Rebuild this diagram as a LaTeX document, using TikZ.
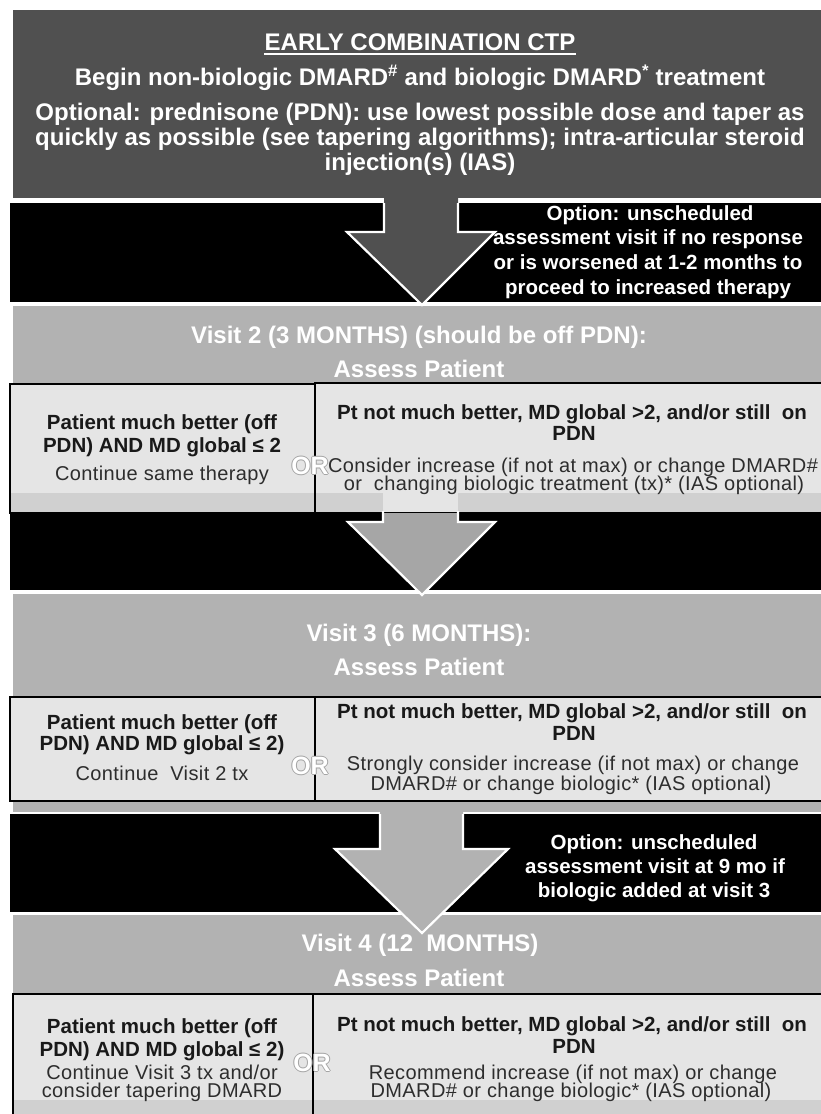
\documentclass[tikz,border=0pt]{standalone}
\usepackage{fontspec}
\setmainfont{Liberation Sans}
\newfontfamily\regfont[LetterSpace=2]{Liberation Sans}
\usetikzlibrary{calc}
\definecolor{topgray}{RGB}{80,80,80}
\definecolor{bandgray}{RGB}{178,178,178}
\definecolor{boxfill}{RGB}{229,229,229}
\definecolor{stripgray}{RGB}{208,208,208}
\definecolor{arrowmid}{RGB}{166,166,166}
\definecolor{textdark}{RGB}{25,25,25}
\definecolor{textreg}{RGB}{45,45,45}
\definecolor{haloc}{RGB}{165,165,165}
\newcommand\halotext[1]{\leavevmode\rlap{\color{haloc}\kern-1pt#1}\rlap{\color{haloc}\kern1pt#1}\rlap{\color{haloc}\raisebox{1pt}{#1}}\rlap{\color{haloc}\raisebox{-1pt}{#1}}#1}
\begin{document}
\begin{tikzpicture}[x=1pt,y=-1pt,
  hd/.style={font=\fontsize{24}{24}\selectfont\bfseries,text=white,inner sep=0pt,text height=17pt,text depth=0pt},
  bandtxt/.style={font=\fontsize{20.5}{20.5}\selectfont\bfseries,text=white,inner sep=0pt,text height=14.7pt,text depth=0pt},
  bx/.style={font=\fontsize{20.5}{20.5}\selectfont\bfseries,text=textdark,inner sep=0pt,text height=14.7pt,text depth=0pt},
  rg/.style={font=\regfont\fontsize{20}{20}\selectfont,text=textreg,inner sep=0pt,text height=14.3pt,text depth=0pt},
  orlabel/.style={font=\fontsize{25}{25}\selectfont\bfseries,text=white,inner sep=0pt,text height=18pt,text depth=0pt},
  boxline/.style={draw=black,line width=2.5pt},
  arrowline/.style={draw=white,line width=2.2pt,line join=miter}
]
\useasboundingbox (0,0) rectangle (820,1114);
\fill[white] (0,0) rectangle (820,1114);

% background bands
\fill[topgray] (13,10) rectangle (822,198);
\fill[black] (10,203) rectangle (822,302);
\fill[bandgray] (13,306) rectangle (822,513);
\fill[black] (10,513) rectangle (822,590);
\fill[bandgray] (13,594) rectangle (822,812);
\fill[black] (10,814) rectangle (822,912);
\fill[bandgray] (13,915) rectangle (822,1116);

% arrow 1
\fill[topgray] (384,196) -- (384,232) -- (347,232) -- (422,305) -- (495,232) -- (458,232) -- (458,196) -- cycle;
\draw[arrowline] (384,203) -- (384,232) -- (347,232) -- (422,305) -- (495,232) -- (458,232) -- (458,203);

% row 2 boxes
\fill[boxfill] (10,383) rectangle (822,513);
\fill[stripgray] (10,493) rectangle (822,513);
\fill[boxfill] (383,493) rectangle (458,513);
\draw[boxline] (10,384) rectangle (315,513);
\draw[boxline] (315,383) rectangle (830,513);

% arrow 2
\fill[arrowmid] (383,513) -- (383,522) -- (348,522) -- (422,595) -- (495,522) -- (458,522) -- (458,513) -- cycle;
\draw[arrowline] (383,511) -- (383,522) -- (348,522) -- (422,595) -- (495,522) -- (458,522) -- (458,511);

% row 3 boxes
\fill[boxfill] (10,697) rectangle (822,801);
\draw[boxline] (10,697) rectangle (315,801);
\draw[boxline] (315,697) rectangle (830,801);

% arrow 3
\fill[bandgray] (380,803) -- (380,849) -- (335,849) -- (422,933) -- (508,849) -- (463,849) -- (463,803) -- cycle;
\draw[arrowline] (380,814) -- (380,849) -- (335,849) -- (422,933) -- (508,849) -- (463,849) -- (463,814);

% row 4 boxes
\fill[boxfill] (13,994) rectangle (822,1116);
\fill[stripgray] (13,1100) rectangle (822,1116);
\draw[boxline] (13,994) rectangle (313,1125);
\draw[boxline] (313,994) rectangle (830,1125);

% top box text
\node[hd] (early) at (420,42) {EARLY COMBINATION CTP};
\draw[white,line width=1.6pt] ($(early.south west)+(0,3)$) -- ($(early.south east)+(0,3)$);
\node[hd] (begin) at (420,77) {Begin non-biologic DMARD\textsuperscript{\#} and biologic DMARD\textsuperscript{*} treatment};
\node[hd] (opt1) at (420,112) {Optional: prednisone (PDN): use lowest possible dose and taper as};
\node[hd] (opt2) at (420,137) {quickly as possible (see tapering algorithms); intra-articular steroid};
\node[hd] (opt3) at (420,162) {injection(s) (IAS)};

% band 1 text
\node[bandtxt] (b1a) at (650,213) {Option: unscheduled};
\node[bandtxt] (b1b) at (648,237) {assessment visit if no response};
\node[bandtxt] (b1c) at (648,262) {or is worsened at 1-2 months to};
\node[bandtxt] (b1d) at (648,287) {proceed to increased therapy};

% visit 2
\node[hd] (v2t) at (419,335) {Visit 2 (3 MONTHS) (should be off PDN):};
\node[hd] (v2a) at (419,369) {Assess Patient};
\node[bx] (v2l1) at (162,422) {Patient much better (off};
\node[bx] (v2l2) at (162,445) {PDN) AND MD global ≤ 2};
\node[rg] (v2l3) at (162,473) {Continue same therapy};
\node[bx] (v2r1) at (572,412) {Pt not much better, MD global >2, and/or still\ \ on};
\node[bx] (v2r2) at (574,433) {PDN};
\node[rg] (v2r3) at (573,465) {Consider increase (if not at max) or change DMARD\#};
\node[rg] (v2r4) at (574,483) {or\ \ changing biologic treatment (tx)* (IAS optional)};
\node[orlabel] (v2or) at (310,465) {\halotext{OR}};

% visit 3
\node[hd] (v3t) at (419,633) {Visit 3 (6 MONTHS):};
\node[hd] (v3a) at (419,667) {Assess Patient};
\node[bx] (v3l1) at (162,722) {Patient much better (off};
\node[bx] (v3l2) at (162,743) {PDN) AND MD global ≤ 2)};
\node[rg] (v3l3) at (162,773) {Continue\ \ Visit 2 tx};
\node[bx] (v3r1) at (572,711) {Pt not much better, MD global >2, and/or still\ \ on};
\node[bx] (v3r2) at (574,733) {PDN};
\node[rg] (v3r3) at (573,763) {Strongly consider increase (if not max) or change};
\node[rg] (v3r4) at (571,783) {DMARD\# or change biologic* (IAS optional)};
\node[orlabel] (v3or) at (310,765) {\halotext{OR}};

% band 3 text
\node[bandtxt] (b3a) at (654,842) {Option: unscheduled};
\node[bandtxt] (b3b) at (655,866) {assessment visit at 9 mo if};
\node[bandtxt] (b3c) at (654,890) {biologic added at visit 3};

% visit 4
\node[hd] (v4t) at (420,943) {Visit 4 (12\ \ MONTHS)};
\node[hd] (v4a) at (419,978) {Assess Patient};
\node[bx] (v4l1) at (162,1026) {Patient much better (off};
\node[bx] (v4l2) at (162,1049) {PDN) AND MD global ≤ 2)};
\node[rg] (v4l3) at (162,1072) {Continue Visit 3 tx and/or};
\node[rg] (v4l4) at (162,1090) {consider tapering DMARD};
\node[bx] (v4r1) at (572,1024) {Pt not much better, MD global >2, and/or still\ \ on};
\node[bx] (v4r2) at (574,1046) {PDN};
\node[rg] (v4r3) at (573,1072) {Recommend increase (if not max) or change};
\node[rg] (v4r4) at (571,1090) {DMARD\# or change biologic* (IAS optional)};
\node[orlabel] (v4or) at (312,1062) {\halotext{OR}};
\end{tikzpicture}
\end{document}
